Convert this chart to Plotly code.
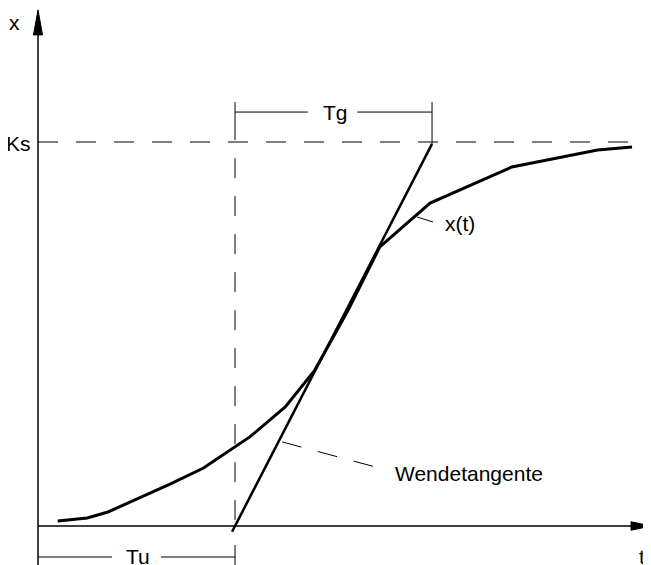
import plotly.graph_objects as go

# ---- data (t in arbitrary time units, x in % of Ks) ----
t_curve = [1.0, 2.5, 3.55, 4.9, 6.7, 8.4, 10.75, 12.55, 14.05, 15.75, 17.35, 19.9, 24.05, 28.4, 30.15]
x_curve = [1.3, 2.1, 3.65, 6.8, 10.9, 15.1, 23.2, 31.0, 40.6, 56.3, 72.7, 84.1, 93.5, 97.9, 98.7]
Tu = 10.0
Tg = 10.0
Ks = 100.0

# axis extents (compensating the 8px page offset of the plot div)
T_MIN, T_MAX = -1.523, 31.52
X_MIN, X_MAX = -12.24, 134.9
T_ARROW_TIP = 31.12
X_BOTTOM = -10.16

black = "black"
FONT = dict(family="Liberation Sans, Arial, sans-serif", size=21, color=black)

fig = go.Figure()

# step response curve
fig.add_trace(go.Scatter(x=t_curve, y=x_curve, mode="lines",
                         line=dict(color=black, width=3), hoverinfo="skip"))

# inflection tangent (through (Tu,0) and (Tu+Tg,Ks)), slightly extended below axis
slope = Ks / Tg
tb = Tu - 1.5 / slope
fig.add_trace(go.Scatter(x=[tb, Tu + Tg], y=[-1.5, Ks - 0.5], mode="lines",
                         line=dict(color=black, width=2.5), hoverinfo="skip"))

shapes = []
def line(x0, y0, x1, y1, w=1.5, dash=None):
    d = dict(type="line", x0=x0, y0=y0, x1=x1, y1=y1, xref="x", yref="y",
             line=dict(color=black, width=w))
    if dash:
        d["line"]["dash"] = dash
    shapes.append(d)

# axes
line(0, X_BOTTOM, 0, 127.9, w=1.5)
line(0, 0, 30.15, 0, w=1.5)
# arrowheads
shapes.append(dict(type="path", xref="x", yref="y",
                   path=f"M {-0.23} 127.9 L 0 134.4 L {0.23} 127.9 Z",
                   fillcolor=black, line=dict(color=black, width=1)))
shapes.append(dict(type="path", xref="x", yref="y",
                   path=f"M 30.1 -1.1 L {T_ARROW_TIP} 0 L 30.1 1.1 Z",
                   fillcolor=black, line=dict(color=black, width=1)))

# Ks dashed line
line(0, Ks, 30.5, Ks, w=1, dash="20px,18px")
# vertical dashed line at Tu
line(Tu, 105.7, Tu, -1.5, w=1, dash="20px,18px")
# short tick at Tu+Tg on Ks
line(Tu + Tg, 105.7, Tu + Tg, Ks - 0.5, w=1)

# Tg dimension
yTg = 107.8
line(Tu, yTg, 13.7, yTg, w=1)
line(16.2, yTg, Tu + Tg, yTg, w=1)
line(Tu, 110.4, Tu, 105.7, w=1)
line(Tu + Tg, 110.4, Tu + Tg, 105.7, w=1)

# Tu dimension
yTu = -8.07
line(0, yTu, 3.76, yTu, w=1)
line(6.24, yTu, Tu, yTu, w=1)
line(Tu, -4.95, Tu, X_BOTTOM, w=1)

# leader lines
line(19.24, 80.47, 20.05, 79.17, w=1)
line(12.39, 21.9, 17.11, 15.4, w=1, dash="20px,17px")

annotations = [
    dict(x=-1.17, y=131.25, text="x", xanchor="center", yanchor="middle"),
    dict(x=-0.25, y=99.7, text="Ks", xanchor="right", yanchor="middle"),
    dict(x=15.08, y=107.8, text="Tg", xanchor="center", yanchor="middle"),
    dict(x=5.08, y=-8.07, text="Tu", xanchor="center", yanchor="middle"),
    dict(x=30.66, y=-8.07, text="t", xanchor="center", yanchor="middle"),
    dict(x=20.56, y=78.9, text="x(t)", xanchor="left", yanchor="middle"),
    dict(x=18.02, y=13.8, text="Wendetangente", xanchor="left", yanchor="middle"),
]
for a in annotations:
    a.update(xref="x", yref="y", showarrow=False, font=FONT)

fig.update_layout(
    width=651, height=565,
    margin=dict(l=0, r=0, t=0, b=0),
    paper_bgcolor="white", plot_bgcolor="white",
    showlegend=False,
    shapes=shapes, annotations=annotations,
    xaxis=dict(range=[T_MIN, T_MAX], visible=False, fixedrange=True),
    yaxis=dict(range=[X_MIN, X_MAX], visible=False, fixedrange=True),
)

fig.write_html("out.html", config={"displayModeBar": False})
